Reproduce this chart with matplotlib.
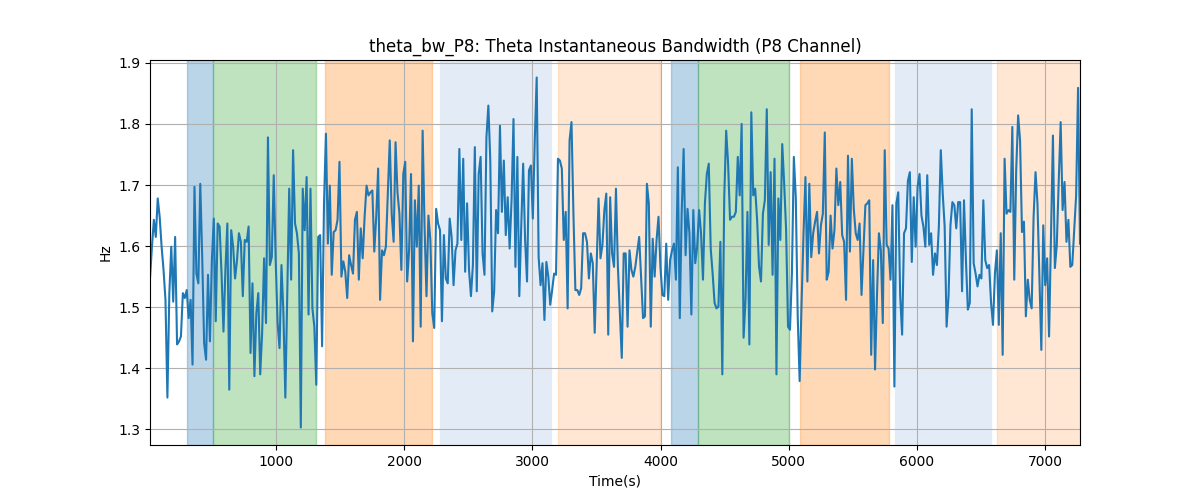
import numpy as np
import matplotlib
matplotlib.use("Agg")
import matplotlib.pyplot as plt

# theta bandwidth values (Hz)
bw = [
    1.547, 1.599, 1.643, 1.615, 1.678, 1.648, 1.599, 1.561, 1.512, 1.352, 1.523, 1.599, 1.509, 1.615,
    1.439, 1.444, 1.452, 1.523, 1.515, 1.528, 1.482, 1.512, 1.406, 1.697, 1.555, 1.539, 1.702, 1.582,
    1.441, 1.414, 1.553, 1.444, 1.577, 1.645, 1.477, 1.637, 1.632, 1.555, 1.460, 1.561, 1.637, 1.365,
    1.626, 1.599, 1.547, 1.577, 1.621, 1.607, 1.518, 1.610, 1.607, 1.632, 1.425, 1.539, 1.387, 1.490,
    1.523, 1.390, 1.458, 1.580, 1.474, 1.778, 1.569, 1.582, 1.716, 1.577, 1.474, 1.433,
    1.569, 1.490, 1.352, 1.523, 1.694, 1.545, 1.757, 1.637, 1.621, 1.588, 1.303, 1.694, 1.626, 1.713,
    1.488, 1.694, 1.498, 1.468, 1.373, 1.615, 1.618, 1.436, 1.670, 1.784, 1.604, 1.699, 1.553, 1.623,
    1.626, 1.643, 1.738, 1.550, 1.575, 1.558, 1.515, 1.585, 1.569, 1.555, 1.643, 1.656, 1.545, 1.629,
    1.580, 1.648, 1.699, 1.683, 1.688, 1.691, 1.591, 1.648, 1.727, 1.512, 1.593, 1.585, 1.599, 1.686,
    1.773, 1.653, 1.607, 1.770, 1.688, 1.653, 1.561, 1.718, 1.738, 1.542, 1.593, 1.718, 1.444,
    1.675, 1.599, 1.699, 1.468, 1.789, 1.632, 1.518, 1.650, 1.610, 1.490, 1.466, 1.661, 1.637, 1.626,
    1.477, 1.618, 1.547, 1.539, 1.645, 1.615, 1.536, 1.593, 1.604, 1.759, 1.610, 1.743, 1.558, 1.670,
    1.561, 1.518, 1.569, 1.762, 1.526, 1.718, 1.746, 1.588, 1.553, 1.778, 1.830, 1.740, 1.493, 1.526,
    1.659, 1.621, 1.797, 1.656, 1.740, 1.618, 1.680, 1.596, 1.675, 1.808, 1.566, 1.746, 1.518, 1.632,
    1.735, 1.610, 1.542, 1.724, 1.732, 1.645, 1.773, 1.876, 1.582, 1.536, 1.572, 1.479, 1.574,
    1.550, 1.504, 1.528, 1.555, 1.553, 1.743, 1.740, 1.727, 1.610, 1.656, 1.498, 1.773, 1.803, 1.653,
    1.528, 1.528, 1.520, 1.531, 1.621, 1.621, 1.607, 1.547, 1.588, 1.572, 1.458, 1.566, 1.678, 1.580,
    1.602, 1.659, 1.686, 1.455, 1.680, 1.588, 1.566, 1.694, 1.566, 1.490, 1.417, 1.588, 1.588, 1.468,
    1.593, 1.561, 1.550, 1.566, 1.591, 1.615, 1.550, 1.482, 1.485, 1.702, 1.670, 1.468, 1.612, 1.550,
    1.610, 1.648, 1.566, 1.520, 1.518, 1.604, 1.512, 1.577, 1.593, 1.604, 1.545, 1.729,
    1.482, 1.656, 1.759, 1.585, 1.661, 1.621, 1.488, 1.659, 1.572, 1.599, 1.659, 1.621, 1.545, 1.670,
    1.718, 1.735, 1.596, 1.555, 1.507, 1.498, 1.501, 1.607, 1.390, 1.680, 1.789, 1.735, 1.643, 1.648,
    1.648, 1.656, 1.746, 1.683, 1.800, 1.450, 1.512, 1.656, 1.439, 1.819, 1.683, 1.694, 1.643, 1.566,
    1.542, 1.653, 1.675, 1.824, 1.602, 1.721, 1.553, 1.743, 1.390, 1.678, 1.610, 1.767, 1.702, 1.626,
    1.468, 1.463, 1.555, 1.746, 1.680, 1.485, 1.379, 1.507, 1.621, 1.713, 1.542, 1.702, 1.582, 1.621,
    1.640, 1.656, 1.588, 1.634, 1.653, 1.786, 1.545, 1.558, 1.650, 1.596, 1.626, 1.727, 1.667, 1.705,
    1.618, 1.607, 1.512, 1.748, 1.591, 1.743, 1.661, 1.621, 1.610, 1.637, 1.520, 1.593, 1.667, 1.670,
    1.675, 1.422, 1.577, 1.398, 1.520, 1.621, 1.593, 1.474, 1.757, 1.602, 1.596, 1.545, 1.667, 1.370,
    1.670, 1.688, 1.518, 1.455, 1.621, 1.629, 1.707, 1.721, 1.574, 1.680, 1.599, 1.697, 1.718, 1.650,
    1.632, 1.599, 1.716, 1.602, 1.621, 1.553, 1.588, 1.569, 1.632, 1.757, 1.686, 1.632, 1.468,
    1.518, 1.634, 1.672, 1.667, 1.629, 1.672, 1.672, 1.526, 1.675, 1.577, 1.496, 1.507, 1.824, 1.572,
    1.555, 1.534, 1.553, 1.547, 1.675, 1.577, 1.564, 1.569, 1.507, 1.471, 1.555, 1.593, 1.471, 1.621,
    1.422, 1.743, 1.653, 1.659, 1.656, 1.795, 1.545, 1.724, 1.814, 1.773, 1.623, 1.640, 1.485, 1.545,
    1.512, 1.498, 1.648, 1.721, 1.670, 1.550, 1.430, 1.634, 1.536, 1.580, 1.452, 1.615, 1.781, 1.564,
    1.602, 1.707, 1.803, 1.659, 1.705, 1.607, 1.643, 1.566, 1.569, 1.626, 1.683, 1.859, 1.604,
]

t_start, t_end = 17, 7273
t = np.linspace(t_start, t_end, len(bw))

# shaded segments: start, end, colour, alpha
span_start = [305, 508, 1382, 2280, 3200, 4082, 4293, 5088, 5830, 6625]
span_end = [508, 1312, 2217, 3146, 3996, 4293, 5003, 5783, 6579, 7273]
span_color = ["tab:blue", "tab:green", "tab:orange", "#e3ecf6", "tab:orange",
              "tab:blue", "tab:green", "tab:orange", "#e3ecf6", "tab:orange"]
span_alpha = [0.3, 0.3, 0.3, 1.0, 0.18, 0.3, 0.3, 0.3, 1.0, 0.18]

fig, ax = plt.subplots(figsize=(12, 5), dpi=100)
for s, e, c, a in zip(span_start, span_end, span_color, span_alpha):
    ax.axvspan(s, e, color=c, alpha=a)

ax.plot(t, bw, color="tab:blue", linewidth=1.5)
ax.set_xlim(t[0], t[-1])
ax.set_title("theta_bw_P8: Theta Instantaneous Bandwidth (P8 Channel)")
ax.set_xlabel("Time(s)")
ax.set_ylabel("Hz")
ax.grid(True)

fig.savefig("out.png")
